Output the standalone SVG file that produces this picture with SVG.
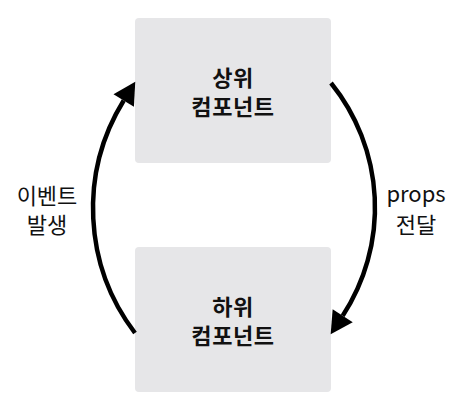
<svg xmlns="http://www.w3.org/2000/svg" width="469" height="420" viewBox="0 0 469 420">
  <style>
    .box { fill: #e6e6e8; }
    .title { font-family: "Noto Sans CJK KR", "Noto Sans", sans-serif; font-size: 22px; font-weight: bold; letter-spacing: 0.6px; fill: #111; text-anchor: middle; }
    .label { font-family: "Noto Sans CJK KR", "Noto Sans", sans-serif; font-size: 22px; fill: #111; text-anchor: middle; }
    .conn { fill: none; stroke: #000; stroke-width: 4.5; }
  </style>
  <defs>
    <marker id="arrow" markerUnits="userSpaceOnUse" orient="auto" refX="0" refY="0" markerWidth="24" markerHeight="26" overflow="visible">
      <path d="M0,-12 L22,0 L0,12 z" fill="#000"/>
    </marker>
  </defs>
  <rect width="469" height="420" fill="#fff"/>
  <g id="node-top">
    <rect class="box" x="135" y="18" width="196" height="145" rx="4"/>
    <text class="title" x="233" y="85.5">상위</text>
    <text class="title" x="233" y="115">컴포넌트</text>
  </g>
  <g id="node-bottom">
    <rect class="box" x="135" y="247" width="196" height="145" rx="4"/>
    <text class="title" x="233" y="314.5">하위</text>
    <text class="title" x="233" y="344">컴포넌트</text>
  </g>
  <g id="connectors">
    <path class="conn" d="M331,83 A198,198 0 0 1 342.7,315.8" marker-end="url(#arrow)"/>
    <path class="conn" d="M135,333 A205.5,205.5 0 0 1 123.7,100.5" marker-end="url(#arrow)"/>
  </g>
  <g id="labels">
    <text class="label" x="47" y="204">이벤트</text>
    <text class="label" x="47" y="233">발생</text>
    <text class="label" x="416" y="202">props</text>
    <text class="label" x="416" y="233">전달</text>
  </g>
</svg>
